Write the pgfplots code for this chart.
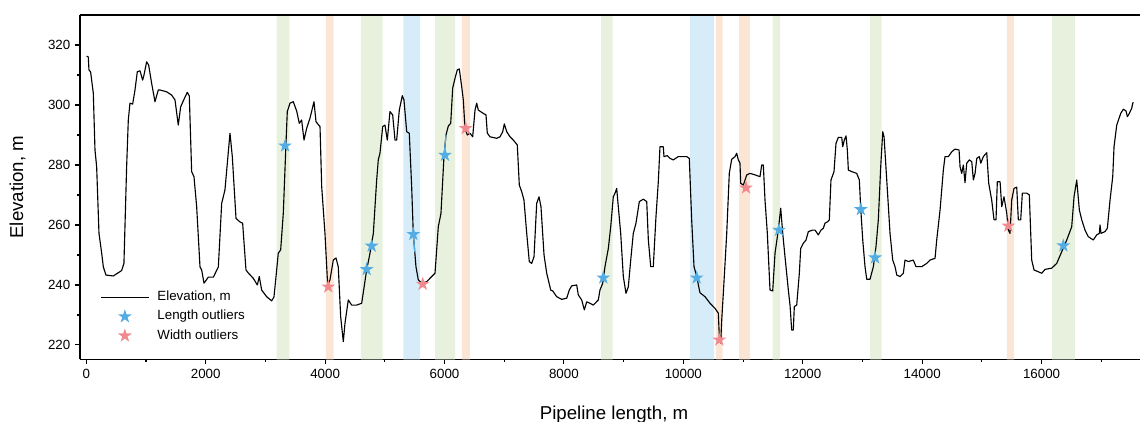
\documentclass[border=0pt]{standalone}
\usepackage{pgfplots}
\pgfplotsset{compat=1.18}
\usepackage{fontspec}
\setmainfont{Liberation Sans}
\usetikzlibrary{plotmarks}
\definecolor{bandgreen}{RGB}{232,241,222}
\definecolor{bandorange}{RGB}{251,230,213}
\definecolor{bandblue}{RGB}{214,236,248}
\definecolor{starblue}{RGB}{84,172,228}
\definecolor{starred}{RGB}{240,138,142}
\pgfdeclareplotmark{fstar}{%
  \pgfpathmoveto{\pgfpointpolar{90}{\pgfplotmarksize}}%
  \pgfpathlineto{\pgfpointpolar{126}{0.382\pgfplotmarksize}}%
  \pgfpathlineto{\pgfpointpolar{162}{\pgfplotmarksize}}%
  \pgfpathlineto{\pgfpointpolar{198}{0.382\pgfplotmarksize}}%
  \pgfpathlineto{\pgfpointpolar{234}{\pgfplotmarksize}}%
  \pgfpathlineto{\pgfpointpolar{270}{0.382\pgfplotmarksize}}%
  \pgfpathlineto{\pgfpointpolar{306}{\pgfplotmarksize}}%
  \pgfpathlineto{\pgfpointpolar{342}{0.382\pgfplotmarksize}}%
  \pgfpathlineto{\pgfpointpolar{18}{\pgfplotmarksize}}%
  \pgfpathlineto{\pgfpointpolar{54}{0.382\pgfplotmarksize}}%
  \pgfpathclose
  \pgfusepathqfill
}
\pgfplotsset{
  lineleg/.style={legend image code/.code={\draw[##1] (0pt,0pt) -- (36pt,0pt);}},
  starleg/.style={legend image code/.code={\draw[##1] plot coordinates {(18pt,0pt)};}},
}
\begin{document}
\begin{tikzpicture}
\begin{axis}[
  scale only axis, width=795pt, height=258.2pt,
  xmin=-105, xmax=17649, ymin=215.23, ymax=330,
  axis x line*=bottom, axis y line*=left,
  axis line style={line width=0.8pt,-},
  xtick={0,2000,...,16000}, minor xtick={1000,3000,...,17000},
  ytick={220,240,...,320}, minor ytick={230,250,...,310},
  tick align=outside, major tick length=3.75pt, minor tick length=1.9pt,
  every tick/.style={black, line width=0.8pt},
  ticklabel style={font=\fontsize{10}{12}\selectfont},
  /pgf/number format/assume math mode=true,
  /pgf/number format/1000 sep={},
  scaled x ticks=false,
  xlabel={Pipeline length, m}, ylabel={Elevation, m},
  label style={font=\fontsize{14}{17}\selectfont},
  xlabel style={at={(axis description cs:0.5038,-0.174)}, anchor=base},
  ylabel style={at={(axis description cs:-0.059,0.5)}, anchor=center},
  legend cell align=left,
  legend style={draw=none, fill=none, at={(axis description cs:0.0189,0.2)}, anchor=north west,
    font=\fontsize{10}{12}\selectfont, inner sep=0pt, row sep=3.9pt, column sep=6pt,
    nodes={inner sep=0pt, text height=7.5pt, text depth=2.5pt}},
]
% bands
\addplot[draw=none, fill=bandgreen, forget plot] coordinates {(3189,215.23) (3189,330) (3400,330) (3400,215.23)} \closedcycle;
\addplot[draw=none, fill=bandgreen, forget plot] coordinates {(4601,215.23) (4601,330) (4965,330) (4965,215.23)} \closedcycle;
\addplot[draw=none, fill=bandgreen, forget plot] coordinates {(5841,215.23) (5841,330) (6176,330) (6176,215.23)} \closedcycle;
\addplot[draw=none, fill=bandgreen, forget plot] coordinates {(8622,215.23) (8622,330) (8817,330) (8817,215.23)} \closedcycle;
\addplot[draw=none, fill=bandgreen, forget plot] coordinates {(11497,215.23) (11497,330) (11620,330) (11620,215.23)} \closedcycle;
\addplot[draw=none, fill=bandgreen, forget plot] coordinates {(13127,215.23) (13127,330) (13323,330) (13323,215.23)} \closedcycle;
\addplot[draw=none, fill=bandgreen, forget plot] coordinates {(16176,215.23) (16176,330) (16560,330) (16560,215.23)} \closedcycle;
\addplot[draw=none, fill=bandorange, forget plot] coordinates {(4015,215.23) (4015,330) (4144,330) (4144,215.23)} \closedcycle;
\addplot[draw=none, fill=bandorange, forget plot] coordinates {(6293,215.23) (6293,330) (6427,330) (6427,215.23)} \closedcycle;
\addplot[draw=none, fill=bandorange, forget plot] coordinates {(10547,215.23) (10547,330) (10659,330) (10659,215.23)} \closedcycle;
\addplot[draw=none, fill=bandorange, forget plot] coordinates {(10933,215.23) (10933,330) (11117,330) (11117,215.23)} \closedcycle;
\addplot[draw=none, fill=bandorange, forget plot] coordinates {(15417,215.23) (15417,330) (15540,330) (15540,215.23)} \closedcycle;
\addplot[draw=none, fill=bandblue, forget plot] coordinates {(5311,215.23) (5311,330) (5590,330) (5590,215.23)} \closedcycle;
\addplot[draw=none, fill=bandblue, forget plot] coordinates {(10112,215.23) (10112,330) (10514,330) (10514,215.23)} \closedcycle;
% elevation profile
\addplot[black, line width=0.85pt, line join=round, lineleg] coordinates {
(6,316.3) (34,316) (45,311.7) (73,311) (118,303.9) (146,285) (174,279.4) (213,257.2) (258,250.6) (286,246) (330,243.3) (453,243) (592,244.8) (631,247.2) (676,279.4) (704,295) (732,300.6) (777,300.3) (816,305) (855,311.1) (900,311.4) (944,308.3) (967,310) (1011,314.4) (1045,313.3) (1095,307.2) (1151,301.1) (1206,305) (1234,305) (1346,304.4) (1430,303.3) (1486,301.7) (1541,293.3) (1581,299.4) (1653,302.6) (1692,304.2) (1726,303) (1765,277.8) (1804,276.1) (1849,266.1) (1905,246) (1933,245) (1972,240.6) (2044,242.6) (2128,242.6) (2212,246) (2268,267.2) (2323,271.7) (2407,290.6) (2446,282.8) (2508,262.2) (2575,261) (2619,260.6) (2675,245) (2714,244) (2798,242.2) (2865,240) (2898,242.8) (2938,238.3) (3021,236.1) (3105,234.7) (3144,236) (3178,242.8) (3216,250.6) (3256,251.7) (3300,263.9) (3345,287.2) (3367,297.8) (3412,300.6) (3467,301.1) (3524,298) (3568,293.9) (3607,295) (3647,288.3) (3691,292.2) (3747,295.6) (3814,301.1) (3848,294.4) (3915,292.8) (3943,272.8) (3998,257.2) (4043,240) (4082,241.7) (4137,248.3) (4183,249) (4221,246) (4261,229.4) (4305,221.1) (4333,227.2) (4389,235) (4445,233.3) (4529,233.3) (4613,233.9) (4696,245) (4752,250.6) (4808,257.2) (4864,275) (4891,281.7)
(4919,283.9) (4965,292.8) (5003,293.3) (5042,288.3) (5087,297.8) (5132,296.7) (5171,288.3) (5199,288.3) (5243,298.3) (5293,303.1) (5321,301.7) (5367,291.1) (5410,290.6) (5450,272.8) (5477,257.2) (5522,246.1) (5561,241.7) (5618,240.6) (5702,241.1) (5785,242.8) (5841,243.9) (5896,259.4) (5941,263.9) (5991,282.8) (6025,290) (6064,293) (6104,293.9) (6137,305.6) (6176,308.9) (6214,311.7) (6248,312) (6288,306.1) (6315,301.7) (6343,292.2) (6382,290) (6427,290.6) (6472,289.4) (6511,298.3) (6539,300.6) (6566,298.3) (6650,297.2) (6695,296.7) (6717,290.6) (6762,289.4) (6874,288.9) (6930,289.4) (6975,291.1) (7002,293.7) (7042,291.1) (7097,289.4) (7152,288.3) (7219,286.7) (7253,273.3) (7293,271.1) (7331,268.3) (7377,257.2) (7420,247.8) (7460,247.2) (7499,249.4) (7544,267.2) (7583,269.4) (7616,266.1) (7644,257.2) (7667,250) (7712,243.9) (7779,238.3) (7813,238) (7879,236.1) (7963,235.2) (8047,235.6) (8090,238.3) (8130,239.7) (8214,240) (8241,236.7) (8298,235) (8342,231.7) (8382,234.4) (8437,233.9) (8492,233.3) (8576,235) (8604,238.3) (8650,240.6) (8688,246.1) (8744,252.2) (8784,259.4) (8827,269.4) (8856,270.6) (8884,272.2) (8911,266.1) (8951,257.2) (8995,242.8) (9040,237.2) (9079,239.4) (9119,248.3) (9162,257.2) (9207,260.6) (9263,267.8) (9330,268.6) (9387,267.8) (9414,255) (9454,246.1) (9497,246.1) (9542,262.8) (9581,274.4) (9609,286.1) (9665,286.1) (9676,282.8) (9710,283) (9732,283.1) (9777,282.2) (9832,281.7) (9916,282.8) (10057,282.8) (10100,282.2) (10140,261.7) (10179,246.1) (10224,242.8) (10279,237.4) (10363,236.1) (10447,233.9) (10531,232.2) (10586,230.6) (10603,222.8) (10626,220.6) (10643,228.3) (10670,237.2) (10727,257.2) (10770,277.2) (10810,281.9) (10866,282.8) (10894,283.9) (10921,281.7) (10949,280.6) (10961,273.9) (11005,273.3) (11062,276.7) (11117,277.2) (11201,276.7) (11284,276.1)
(11313,280) (11340,280) (11368,268.3) (11407,257.2) (11452,238.3) (11497,238) (11536,250.6) (11591,258.3) (11631,265.6) (11665,257.2) (11703,249.4) (11759,238.3) (11787,233.3) (11815,225) (11842,225) (11859,232.8) (11899,233.3) (11943,243.9) (11966,252.2) (12010,253.9) (12055,255) (12094,257.8) (12167,258.3) (12206,258.3) (12261,256.7) (12306,258.3) (12345,258.9) (12373,260.6) (12418,261.1) (12445,261.7) (12473,275) (12524,277.8) (12557,287.2) (12596,289.2) (12653,289.2) (12670,286.1) (12696,288.3) (12725,289.7) (12747,285) (12764,278.3) (12820,277.8) (12904,277.2) (12948,275) (12971,265.6) (13005,255) (13043,246.1) (13072,241.9) (13127,241.9) (13183,246.1) (13227,252.8) (13266,261.7) (13306,279.4) (13340,291.1) (13362,289.4) (13407,275) (13462,257.2) (13507,248.3) (13546,246.1) (13575,243.3) (13630,242.8) (13685,243.9) (13713,248.3) (13769,247.8) (13852,248.3) (13897,246.1) (13993,246.1) (14077,247.2) (14132,248.3) (14216,248.9) (14244,255) (14300,265) (14355,278.3) (14383,282.8) (14439,282.8) (14496,284.4) (14551,285.3) (14618,285) (14635,279.4) (14663,277.2) (14690,280) (14718,274.1) (14747,280.6) (14790,281.7) (14831,281.1) (14858,275) (14886,277.2) (14915,282.2) (14958,282.8) (14982,280.6) (15025,282.8) (15082,284.1) (15115,273.9) (15165,268.3) (15204,261.7) (15237,261.7) (15259,274.4) (15305,274.4) (15333,266.1) (15371,269.4) (15417,263.9) (15443,258.3) (15472,257.2) (15500,268.3) (15539,272.2) (15584,272.6) (15611,261.7) (15651,261.7) (15678,270.6) (15752,270.6) (15795,270) (15835,248.3) (15874,245) (15946,244.4) (16003,243.9) (16058,245.2) (16170,245.6) (16254,247.2) (16338,251.1) (16422,255) (16505,259.4) (16544,269.4) (16589,275) (16633,265) (16673,261.7) (16728,258.3) (16783,256.1) (16867,255) (16924,256.7) (16968,257.2) (16979,260) (16996,257.2) (17063,257.8) (17102,258.9) (17147,268.3) (17192,276.1) (17214,286.1) (17259,293.3) (17326,297.2) (17370,298.6) (17415,298) (17437,296.1) (17470,297.2) (17510,298.9) (17527,300.6) (17537,300.9)
};
\addlegendentry{Elevation, m}
% short blue stretches of the profile next to two length outliers
\addplot[starblue, line width=0.85pt, forget plot] coordinates {(5477,257.2) (5502,251)};
\addplot[starblue, line width=0.85pt, forget plot] coordinates {(5995,283.6) (6025,290)};
\addplot[only marks, mark=fstar, mark size=5.5pt, mark options={fill=starblue, draw=none}, starleg] coordinates {
(3330,286.4) (4696,245.2) (4780,253) (5478,256.9) (6008,283.3) (8660,242.4) (10224,242.4) (11603,258.3) (12973,265.2) (13211,249.1) (16365,253.1)
};
\addlegendentry{Length outliers}
\addplot[only marks, mark=fstar, mark size=5.5pt, mark options={fill=starred, draw=none}, starleg] coordinates {
(4054,239.4) (5635,240.3) (6355,292.2) (10603,221.7) (11050,272.4) (15444,259.7)
};
\addlegendentry{Width outliers}
\coordinate (ll) at (rel axis cs:0,0);
\coordinate (ur) at (rel axis cs:1,1);
\end{axis}
\draw[line width=0.8pt] (ll |- ur) -- (ur);
\pgfresetboundingbox
\path ([xshift=-60pt,yshift=-47pt]ll) rectangle ([yshift=11.25pt]ur);
\end{tikzpicture}
\end{document}
